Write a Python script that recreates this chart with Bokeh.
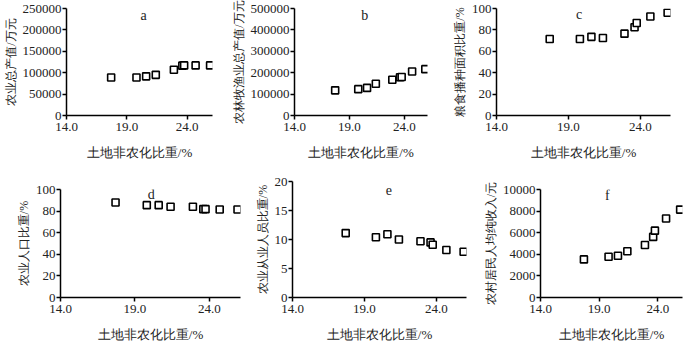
from bokeh.plotting import figure
from bokeh.layouts import column, row
from bokeh.models import Range1d, FixedTicker, NumeralTickFormatter, Label
from bokeh.embed import file_html
from bokeh.resources import INLINE

# shared x: land non-agricultural conversion share (%)
land_share = [17.7, 19.8, 20.6, 21.4, 22.9, 23.6, 23.75, 24.7, 25.9]
x_ticks = [14.0, 19.0, 24.0]
x_label = "土地非农化比重/%"

agri_output = [88700, 88700, 91500, 95000, 107000, 116500, 117000, 117000, 117000]
agri_output_ticks = [0, 50000, 100000, 150000, 200000, 250000]

afff_output = [117600, 123200, 128900, 148700, 167100, 178500, 180000, 205400, 216700]
afff_output_ticks = [0, 100000, 200000, 300000, 400000, 500000]

grain_area = [71.5, 71.5, 73.5, 72.5, 76.5, 82.5, 86.5, 92.5, 96.0]
grain_area_ticks = [0, 20, 40, 60, 80, 100]

agri_pop = [88.0, 85.5, 85.5, 84.0, 84.0, 81.8, 81.8, 81.5, 81.5]
agri_pop_ticks = [0, 20, 40, 60, 80, 100]

agri_workers = [11.1, 10.4, 10.9, 10.0, 9.7, 9.5, 9.1, 8.2, 7.9]
agri_workers_ticks = [0, 5, 10, 15, 20]

rural_income = [3530, 3780, 3860, 4280, 4860, 5610, 6190, 7310, 8140]
rural_income_ticks = [0, 2000, 4000, 6000, 8000, 10000]

SERIF = "Liberation Serif"
TXT = "#222222"


def panel(y, yticks, ylabel, letter, lx, ly, w, h, bl, br, bt, bb):
    p = figure(width=w, height=h, x_range=Range1d(14, 26.1),
               y_range=Range1d(0, yticks[-1]),
               output_backend="svg", toolbar_location=None,
               min_border_left=bl, min_border_right=br,
               min_border_top=bt, min_border_bottom=bb,
               frame_align=False)
    p.outline_line_color = None
    p.grid.visible = False
    p.background_fill_color = "white"
    p.border_fill_color = "white"
    p.scatter(land_share, y, marker="square", size=7, line_color="black",
              line_width=1.6, fill_color="white")
    p.xaxis.ticker = FixedTicker(ticks=x_ticks)
    p.xaxis.formatter = NumeralTickFormatter(format="0.0")
    p.yaxis.ticker = FixedTicker(ticks=yticks)
    p.yaxis.formatter = NumeralTickFormatter(format="0")
    p.xaxis.axis_label = x_label
    p.yaxis.axis_label = ylabel
    for ax in (p.xaxis[0], p.yaxis[0]):
        ax.axis_line_color = "black"
        ax.axis_line_width = 1.5
        ax.major_tick_line_color = "black"
        ax.major_tick_line_width = 1.5
        ax.major_tick_out = 4
        ax.major_tick_in = 0
        ax.minor_tick_out = 0
        ax.minor_tick_in = 0
        ax.major_label_text_font = SERIF
        ax.major_label_text_font_size = "13px"
        ax.major_label_text_color = TXT
        ax.major_label_standoff = 1
        ax.axis_label_text_font = SERIF
        ax.axis_label_text_font_style = "normal"
        ax.axis_label_text_color = TXT
    p.xaxis.major_label_standoff = 3
    p.xaxis.axis_label_text_font_size = "13px"
    p.yaxis.axis_label_text_font_size = "12px"
    p.xaxis.axis_label_standoff = 11
    p.yaxis.axis_label_standoff = 2
    p.add_layout(Label(x=lx, y=ly, text=letter, text_font=SERIF,
                       text_font_size="14px", text_color=TXT,
                       text_align="center", text_baseline="middle"))
    return p


pa = panel(agri_output, agri_output_ticks, "农业总产值/万元", "a", 20.4, 234000,
           222, 162, 60, 10, 8, 37)
pb = panel(afff_output, afff_output_ticks, "农林牧渔业总产值/万元", "b", 20.4, 468000,
           227, 162, 72, 22, 8, 37)
pc = panel(grain_area, grain_area_ticks, "粮食播种面积比重/%", "c", 19.75, 94,
           235, 162, 45, 14, 8, 37)
pd = panel(agri_pop, agri_pop_ticks, "农业人口比重/%", "d", 20.1, 95,
           252, 182, 60, 12, 27, 37)
pe = panel(agri_workers, agri_workers_ticks, "农业从业人员比重/%", "e", 20.7, 18.6,
           228, 182, 40, 14, 19, 37)
pf = panel(rural_income, rural_income_ticks, "农村居民人均纯收入/元", "f", 19.7, 9400,
           204, 182, 56, 2, 27, 37)

layout = column(row(pa, pb, pc), row(pd, pe, pf))

with open("out.html", "w") as f:
    f.write(file_html(layout, INLINE))
